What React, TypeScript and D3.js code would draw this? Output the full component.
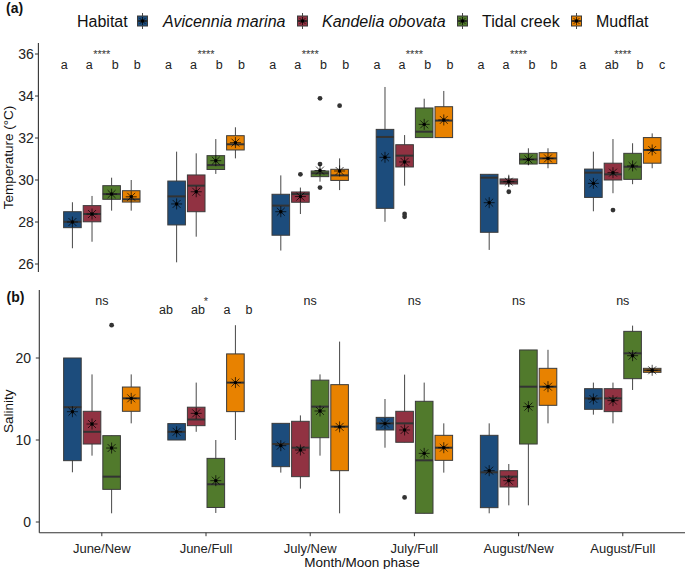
import React from "react";
import * as d3 from "d3";

const months = ["June/New", "June/Full", "July/New", "July/Full", "August/New", "August/Full"];
const habitats = ["Avicennia marina", "Kandelia obovata", "Tidal creek", "Mudflat"];
const habitatColors = ["#1C4C7C", "#913242", "#517A2C", "#E88200"];
const habitatItalic = [true, true, false, false];

// [lower whisker, q1, median, q3, upper whisker, mean] per month
const tempAvicennia = [
  [26.75, 27.73, 28.01, 28.49, 28.94, 28.0],
  [26.08, 27.86, 29.22, 29.95, 31.35, 28.86],
  [26.64, 27.37, 28.78, 29.32, 30.22, 28.49],
  [28.01, 28.65, 32.05, 32.41, 34.43, 31.08],
  [26.67, 27.51, 30.11, 30.27, 30.27, 28.92],
  [28.51, 29.17, 30.35, 30.52, 31.35, 29.84],
];
const tempKandelia = [
  [27.06, 28.01, 28.38, 28.78, 29.24, 28.38],
  [27.3, 28.49, 29.73, 30.24, 31.27, 29.44],
  [28.38, 28.94, 29.33, 29.43, 29.64, 29.21],
  [29.73, 30.62, 31.16, 31.68, 32.14, 30.86],
  [29.68, 29.81, 29.92, 30.05, 30.25, 29.92],
  [29.37, 30.0, 30.27, 30.8, 31.95, 30.35],
];
const tempTidal = [
  [28.54, 29.08, 29.33, 29.73, 30.11, 29.33],
  [30.29, 30.5, 30.71, 31.16, 31.95, 30.92],
  [29.92, 30.16, 30.32, 30.43, 30.56, 30.45],
  [32.02, 32.02, 32.3, 33.43, 33.87, 32.65],
  [30.7, 30.76, 30.98, 31.27, 31.51, 30.98],
  [29.8, 30.03, 30.63, 31.27, 31.75, 30.67],
];
const tempMudflat = [
  [28.54, 28.95, 29.08, 29.49, 30.0, 29.2],
  [31.03, 31.43, 31.7, 32.11, 32.51, 31.78],
  [29.52, 29.98, 30.22, 30.51, 31.03, 30.43],
  [32.02, 32.02, 32.83, 33.49, 34.24, 32.86],
  [30.56, 30.78, 31.03, 31.3, 31.51, 31.03],
  [30.56, 30.8, 31.43, 32.02, 32.22, 31.43],
];
// [habitat index, month index, value]
const tempOutliers = [
  [1, 2, 30.27], [1, 3, 28.38], [1, 3, 28.25], [1, 4, 29.44], [1, 5, 28.57],
  [2, 2, 33.89], [2, 2, 30.76], [2, 2, 29.64],
  [3, 2, 33.54],
];

const salAvicennia = [
  [6.06, 7.48, 14.0, 20.0, 20.0, 13.45],
  [10.0, 10.0, 11.0, 12.0, 12.0, 11.0],
  [6.02, 6.75, 9.51, 12.03, 12.03, 9.31],
  [9.06, 11.22, 12.03, 12.76, 15.0, 12.0],
  [1.06, 1.75, 6.06, 10.57, 12.03, 6.26],
  [13.09, 13.74, 15.08, 16.26, 17.0, 15.0],
];
const salKandelia = [
  [8.09, 9.51, 11.0, 13.5, 18.0, 11.95],
  [11.0, 11.75, 12.5, 14.0, 17.0, 13.25],
  [4.07, 5.53, 9.06, 12.28, 13.0, 8.78],
  [9.72, 9.72, 12.03, 13.5, 17.97, 11.22],
  [2.03, 4.27, 5.53, 6.26, 7.07, 5.04],
  [12.03, 13.46, 15.08, 16.26, 17.0, 14.8],
];
const salTidal = [
  [1.06, 3.98, 5.53, 10.53, 10.53, 9.02],
  [1.1, 1.77, 4.6, 7.76, 10.0, 5.04],
  [8.09, 10.28, 14.07, 17.3, 18.0, 13.54],
  [1.06, 1.06, 7.52, 14.72, 17.0, 8.37],
  [2.03, 9.51, 16.5, 20.98, 20.98, 14.07],
  [16.1, 17.48, 20.57, 23.25, 23.95, 20.28],
];
const salMudflat = [
  [12.03, 13.5, 15.08, 16.46, 18.0, 15.08],
  [10.0, 13.46, 17.0, 20.5, 24.0, 17.0],
  [1.06, 6.26, 11.63, 16.75, 22.0, 11.6],
  [6.02, 7.52, 9.06, 10.57, 12.03, 9.06],
  [12.03, 14.23, 16.5, 18.74, 21.0, 16.5],
  [18.25, 18.25, 18.5, 18.74, 18.74, 18.5],
];
const salOutliers = [
  [2, 0, 24.0], [1, 3, 3.0],
];

const tempTicks = [26, 28, 30, 32, 34, 36];
const salTicks = [0, 10, 20];

const tempSignif = ["****", "****", "****", "****", "****", "****"];
const tempLetters = [
  ["a", "a", "b", "b"],
  ["a", "a", "b", "b"],
  ["a", "a", "b", "b"],
  ["a", "a", "b", "b"],
  ["a", "a", "b", "b"],
  ["a", "ab", "b", "c"],
];
const salSignif = ["ns", "*", "ns", "ns", "ns", "ns"];
const salLetters = [null, ["ab", "ab", "a", "b"], null, null, null, null];

const FONT = "'Liberation Sans', Arial, Helvetica, sans-serif";

function Star({ cx, cy, r }: { cx: number; cy: number; r: number }) {
  const d2 = r * 0.72;
  const d = `M${cx - r},${cy}L${cx + r},${cy}M${cx},${cy - r}L${cx},${cy + r}M${cx - d2},${cy - d2}L${cx + d2},${cy + d2}M${cx - d2},${cy + d2}L${cx + d2},${cy - d2}`;
  return (
    <g>
      <path d={d} stroke="#000" strokeWidth={0.7} fill="none" />
      <circle cx={cx} cy={cy} r={1.7} fill="#000" />
    </g>
  );
}

export default function App() {
  const W = 685, H = 569;
  const x = d3.scaleLinear().domain([0.4, 6.6]).range([39.3, 685.3]);
  const slot = 19.6;
  const bw = 17.6;
  const dodge = (j: number) => (j - 1.5) * slot;

  const yT = d3.scaleLinear().domain([26, 36]).range([264, 54]);
  const yB = d3.scaleLinear().domain([0, 20]).range([522, 358]);

  const tempSeries = [tempAvicennia, tempKandelia, tempTidal, tempMudflat];
  const salSeries = [salAvicennia, salKandelia, salTidal, salMudflat];

  const renderBoxes = (series: number[][][], outliers: number[][], y: d3.ScaleLinear<number, number>) => (
    <g>
      {months.map((m, i) => (
        <g key={m}>
          {series.map((s, j) => {
            const [lo, q1, med, q3, hi] = s[i];
            const cx = x(i + 1) + dodge(j);
            return (
              <g key={j}>
                <line x1={cx} x2={cx} y1={y(lo)} y2={y(hi)} stroke="#474747" strokeWidth={1} />
                <rect x={cx - bw / 2} y={y(q3)} width={bw} height={Math.max(1, y(q1) - y(q3))}
                  fill={habitatColors[j]} stroke="#3b3b3b" strokeWidth={1} />
                <line x1={cx - bw / 2} x2={cx + bw / 2} y1={y(med)} y2={y(med)} stroke="#333" strokeWidth={2} />
              </g>
            );
          })}
        </g>
      ))}
      {outliers.map(([j, i, v], k) => (
        <circle key={k} cx={x(i + 1) + dodge(j)} cy={y(v)} r={2.4} fill="#333" />
      ))}
      {months.map((m, i) => (
        <g key={m + "s"}>
          {series.map((s, j) => (
            <Star key={j} cx={x(i + 1) + dodge(j)} cy={y(s[i][5])} r={5.5} />
          ))}
        </g>
      ))}
    </g>
  );

  const topLetterOff = [-37.5, -12.5, 13.3, 35.5];
  const topLetterOffLast = [-40, -11, 17.3, 39.3];
  const botLetterOff = [-40, -8, 21, 43];

  // legend layout
  const legendKeyX = [142.5, 302.5, 462.5, 576.5];
  const legendTextX = [163, 322, 482, 596];
  const legendY = 21;

  return (
    <svg width={W} height={H} style={{ position: "absolute", left: 0, top: 0, background: "#fff" }}
      fontFamily={FONT}>
      <rect width={W} height={H} fill="#fff" />
      {/* Legend */}
      <text x={6} y={13} fontSize={14} fontWeight="bold" fill="#111">(a)</text>
      <text x={77} y={legendY + 5.6} fontSize={16} fill="#111">Habitat</text>
      {habitats.map((h, j) => {
        const kx = legendKeyX[j];
        return (
          <g key={h}>
            <line x1={kx} x2={kx} y1={legendY - 8} y2={legendY + 8} stroke="#474747" strokeWidth={1} />
            <rect x={kx - 5} y={legendY - 5} width={10} height={10} fill={habitatColors[j]} stroke="#3b3b3b" strokeWidth={1} />
            <line x1={kx - 5} x2={kx + 5} y1={legendY} y2={legendY} stroke="#333" strokeWidth={1.5} />
            <Star cx={kx} cy={legendY} r={4} />
            <text x={legendTextX[j]} y={legendY + 5.6} fontSize={16} fill="#111"
              fontStyle={habitatItalic[j] ? "italic" : "normal"}>{h}</text>
          </g>
        );
      })}

      {/* Top panel: temperature */}
      <line x1={38.4} x2={38.4} y1={43} y2={272} stroke="#333" strokeWidth={1.1} />
      {tempTicks.map((t) => (
        <g key={t}>
          <line x1={35} x2={38.4} y1={yT(t)} y2={yT(t)} stroke="#333" strokeWidth={1} />
          <text x={33.8} y={yT(t)} dy="0.36em" textAnchor="end" fontSize={14} fill="#222">{t}</text>
        </g>
      ))}
      <text transform={`translate(12.5,157.5) rotate(-90)`} textAnchor="middle" fontSize={13.5} fill="#111">Temperature (°C)</text>
      {months.map((m, i) => (
        <g key={m}>
          <text x={x(i + 1)} y={58} textAnchor="middle" fontSize={11} fill="#333">{tempSignif[i]}</text>
          {tempLetters[i].map((l, j) => (
            <text key={j} x={x(i + 1) + (i === 5 ? topLetterOffLast[j] : topLetterOff[j])} y={68.5}
              textAnchor="middle" fontSize={12.5} fill="#222">{l}</text>
          ))}
        </g>
      ))}
      {renderBoxes(tempSeries, tempOutliers, yT)}

      {/* Bottom panel: salinity */}
      <text x={6.5} y={301.5} fontSize={14} fontWeight="bold" fill="#111">(b)</text>
      <line x1={39.3} x2={39.3} y1={290} y2={532.7} stroke="#333" strokeWidth={1.1} />
      <line x1={39.3} x2={685} y1={532.7} y2={532.7} stroke="#333" strokeWidth={1.1} />
      {salTicks.map((t) => (
        <g key={t}>
          <line x1={35.8} x2={39.3} y1={yB(t)} y2={yB(t)} stroke="#333" strokeWidth={1} />
          <text x={31} y={yB(t)} dy="0.36em" textAnchor="end" fontSize={14} fill="#222">{t}</text>
        </g>
      ))}
      <text transform={`translate(12.5,411.3) rotate(-90)`} textAnchor="middle" fontSize={13.5} fill="#111">Salinity</text>
      {months.map((m, i) => (
        <g key={m}>
          <line x1={x(i + 1)} x2={x(i + 1)} y1={532.7} y2={536.2} stroke="#333" strokeWidth={1} />
          <text x={x(i + 1)} y={553} textAnchor="middle" fontSize={13} fill="#222">{m}</text>
          {salSignif[i] === "*" ? (
            <text x={x(i + 1)} y={304.5} textAnchor="middle" fontSize={11} fill="#333">*</text>
          ) : (
            <text x={x(i + 1)} y={305} textAnchor="middle" fontSize={12.5} fill="#222">{salSignif[i]}</text>
          )}
          {salLetters[i] && salLetters[i]!.map((l, j) => (
            <text key={j} x={x(i + 1) + botLetterOff[j]} y={314} textAnchor="middle" fontSize={12.5} fill="#222">{l}</text>
          ))}
        </g>
      ))}
      {renderBoxes(salSeries, salOutliers, yB)}
      <text x={362} y={567} textAnchor="middle" fontSize={13.5} fill="#111">Month/Moon phase</text>
    </svg>
  );
}
